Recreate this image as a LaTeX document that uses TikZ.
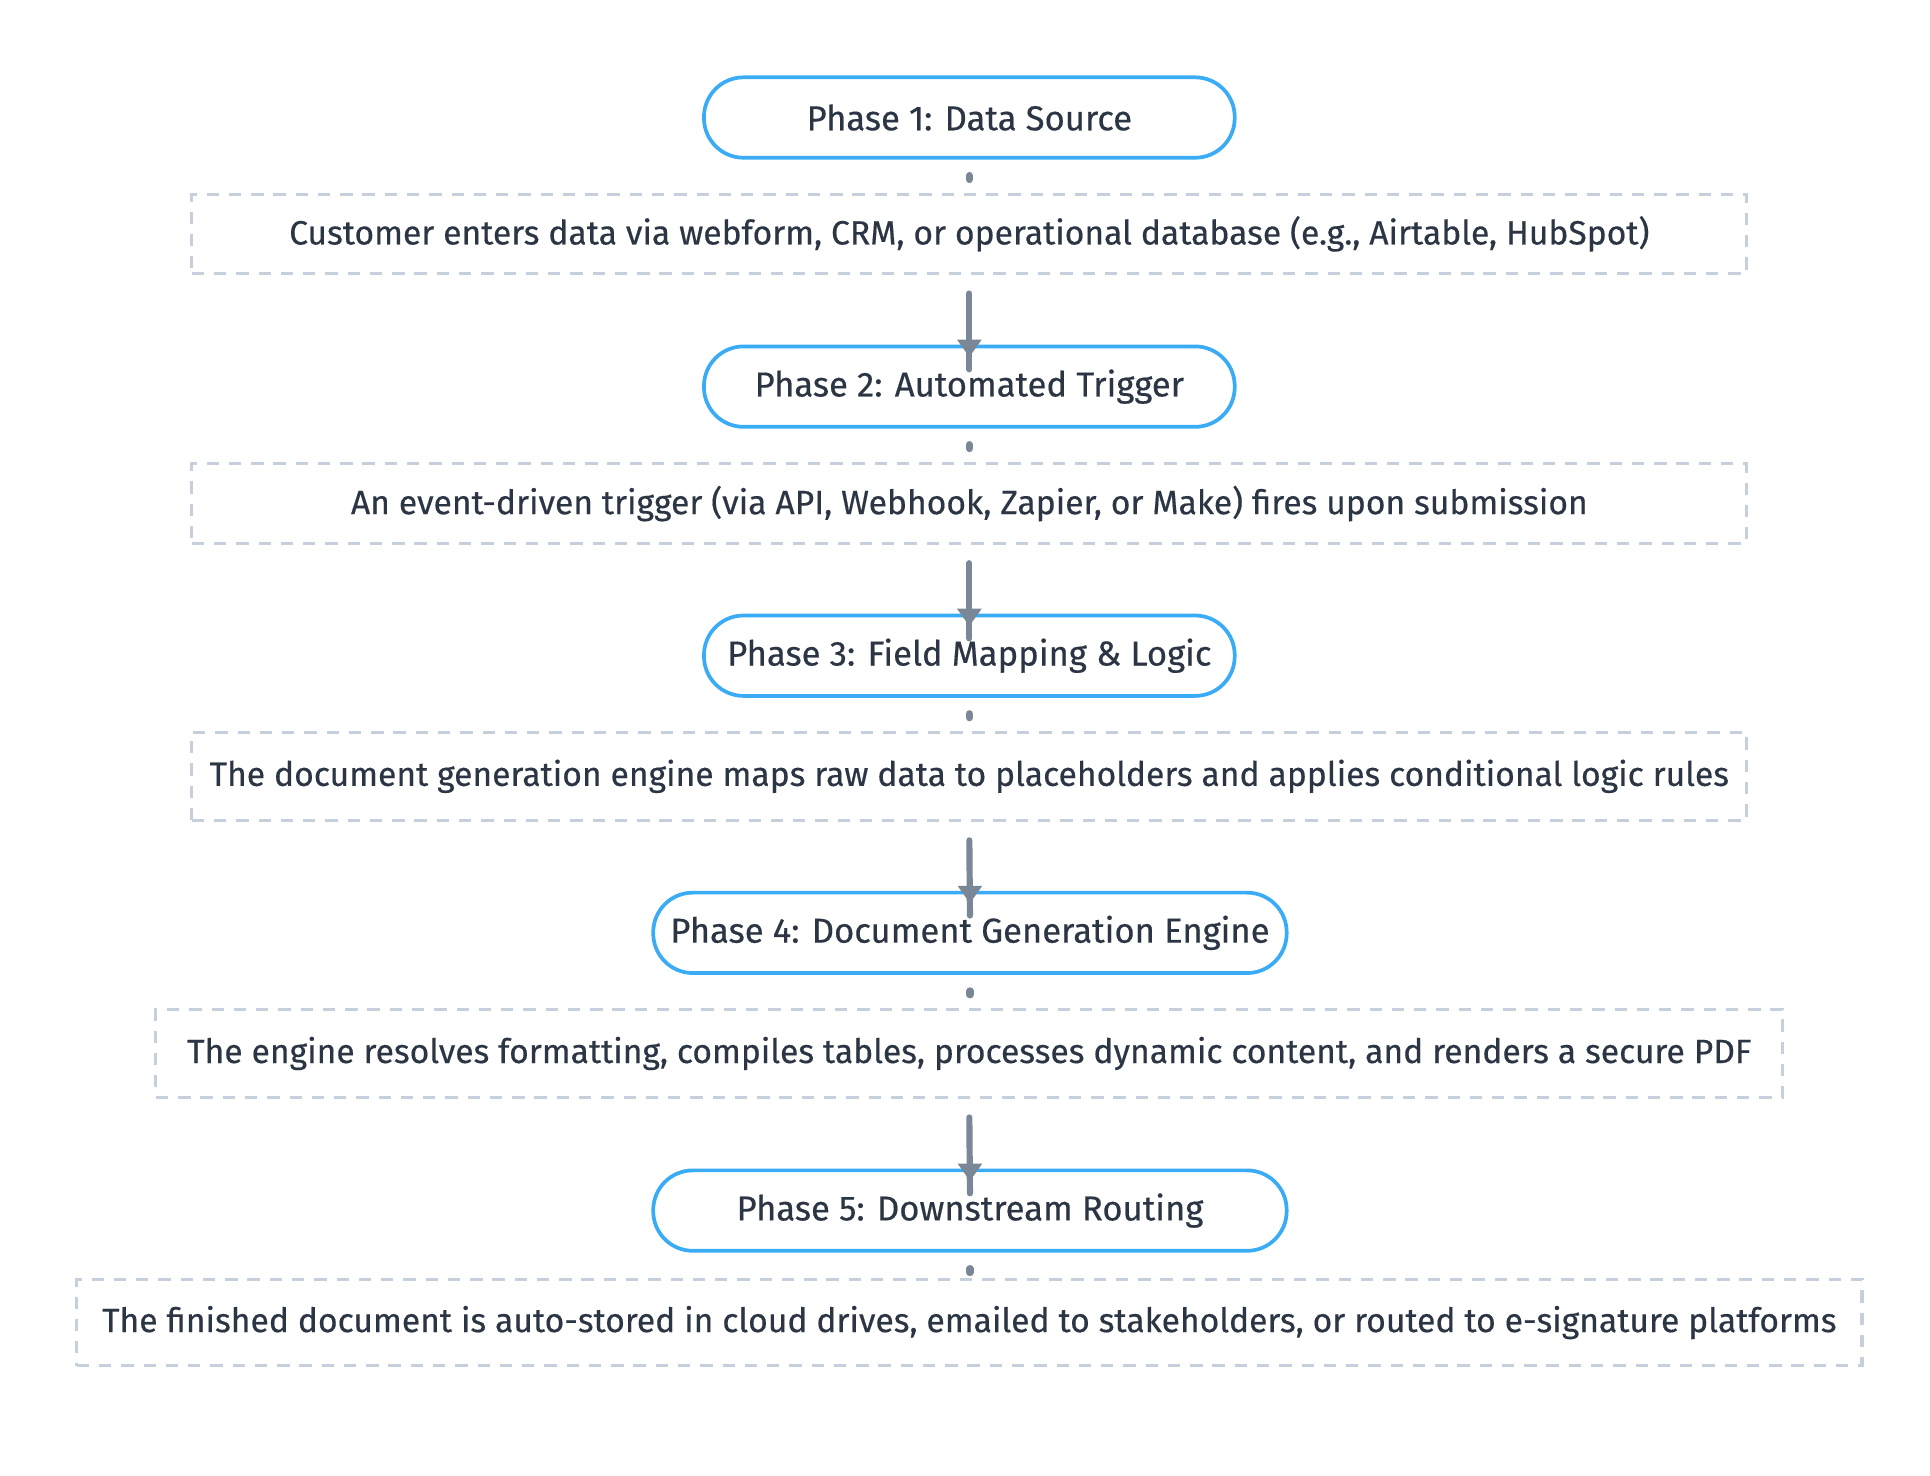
\documentclass[tikz,border=0pt]{standalone}
\usepackage{fontspec}
\setmainfont{Fira Sans}[FakeBold=0.4]
\usetikzlibrary{arrows.meta,calc}
\definecolor{pillc}{HTML}{3AABF5}
\definecolor{dashc}{HTML}{C5D0DC}
\definecolor{txt}{HTML}{2B3544}
\definecolor{arr}{HTML}{7A8797}
\begin{document}
\begin{tikzpicture}[x=1pt,y=1pt,
  pill/.style={draw=pillc,line width=3pt,rounded corners=32pt,fill=white,inner sep=0pt,minimum height=65pt,text=txt,font=\fontsize{28}{32}\selectfont},
  box/.style={draw=dashc,line width=2.5pt,dash pattern=on 10pt off 8pt,inner sep=0pt,text=txt,font=\fontsize{27.2}{32}\selectfont},
  tick/.style={draw=arr,line width=6pt,line cap=round},
  flow/.style={draw=arr,line width=5pt,line cap=round}]
\useasboundingbox (0,0) rectangle (1560,-1193);
\node[pill,minimum width=429pt] (p1) at (783.5,-95) {Phase 1: Data Source};
\node[box,minimum width=1257pt,minimum height=64pt] (b1) at (783.5,-189) {Customer enters data via webform, CRM, or operational database (e.g., Airtable, HubSpot)};
\node[pill,minimum width=429pt] (p2) at (783.5,-312.5) {Phase 2: Automated Trigger};
\node[box,minimum width=1257pt,minimum height=64pt] (b2) at (783.5,-407) {An event-driven trigger (via API, Webhook, Zapier, or Make) fires upon submission};
\node[pill,minimum width=429pt] (p3) at (783.5,-530) {Phase 3: Field Mapping \& Logic};
\node[box,minimum width=1257pt,minimum height=71pt] (b3) at (783.5,-627.5) {The document generation engine maps raw data to placeholders and applies conditional logic rules};
\node[pill,minimum width=512pt] (p4) at (784,-754) {Phase 4: Document Generation Engine};
\node[box,minimum width=1315pt,minimum height=71pt] (b4) at (783.5,-851.5) {The engine resolves formatting, compiles tables, processes dynamic content, and renders a secure PDF};
\node[pill,minimum width=512pt] (p5) at (784,-978.5) {Phase 5: Downstream Routing};
\node[box,minimum width=1443pt,minimum height=70pt] (b5) at (783.5,-1069) {The finished document is auto-stored in cloud drives, emailed to stakeholders, or routed to e-signature platforms};
\foreach \p in {p1,p2,p3,p4,p5}{
  \draw[tick] ([yshift=-13pt]\p.south) -- ([yshift=-16pt]\p.south);}
\foreach \b/\p in {b1/p2,b2/p3,b3/p4,b4/p5}{
  \draw[flow] ([yshift=-15pt]\b.south) -- ([yshift=-20pt]\p.north);
  \fill[arr] ([yshift=-10pt]\p.north) -- ++(-10,14) -- ++(20,0) -- cycle;}
\end{tikzpicture}
\end{document}
